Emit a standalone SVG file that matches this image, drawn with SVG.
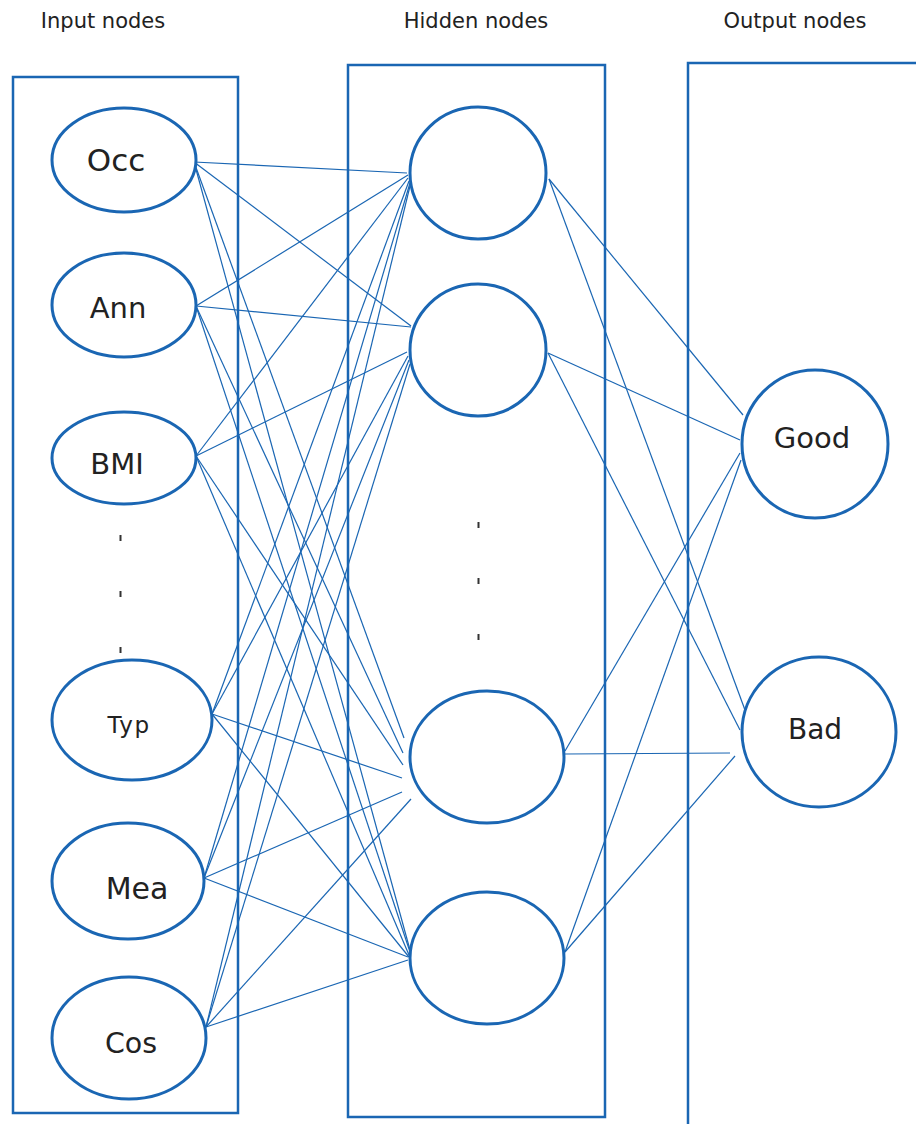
<svg xmlns="http://www.w3.org/2000/svg" width="916" height="1124" viewBox="0 0 916 1124">
  <style>
    .box { fill: none; stroke: #1a66b3; stroke-width: 2.5; }
    .node { fill: #ffffff; stroke: #1a66b3; stroke-width: 3; }
    .edge { stroke: #1a66b3; stroke-width: 1.2; fill: none; }
    .title { font-family: "DejaVu Sans", sans-serif; font-size: 21px; fill: #222222; text-anchor: middle; }
    .label { font-family: "DejaVu Sans", sans-serif; font-size: 29px; fill: #222222; text-anchor: middle; }
    .dot { fill: #333333; }
  </style>

  <rect width="916" height="1124" fill="#ffffff"/>

  <!-- column titles -->
  <text class="title" x="103" y="28">Input nodes</text>
  <text class="title" x="476" y="28">Hidden nodes</text>
  <text class="title" x="795" y="28">Output nodes</text>

  <!-- layer frames -->
  <g id="frames">
    <rect class="box" x="13" y="77" width="225" height="1036"/>
    <rect class="box" x="348" y="65" width="257" height="1052"/>
    <rect class="box" x="688" y="63" width="260" height="1080"/>
  </g>

  <!-- connectors -->
  <g id="connectors">
    <!-- input to hidden 1 -->
    <line class="edge" x1="194" y1="162" x2="407" y2="173"/>
    <line class="edge" x1="196" y1="306" x2="408" y2="175"/>
    <line class="edge" x1="196" y1="456" x2="408" y2="178"/>
    <line class="edge" x1="212" y1="714" x2="409" y2="181"/>
    <line class="edge" x1="204" y1="878" x2="410" y2="183"/>
    <line class="edge" x1="206" y1="1027" x2="410" y2="186"/>
    <!-- input to hidden 2 -->
    <line class="edge" x1="194" y1="162" x2="411" y2="326"/>
    <line class="edge" x1="196" y1="306" x2="411" y2="327"/>
    <line class="edge" x1="196" y1="456" x2="407" y2="352"/>
    <line class="edge" x1="212" y1="714" x2="408" y2="356"/>
    <line class="edge" x1="204" y1="878" x2="409" y2="360"/>
    <line class="edge" x1="206" y1="1027" x2="410" y2="364"/>
    <!-- input to hidden 3 -->
    <line class="edge" x1="194" y1="162" x2="404" y2="738"/>
    <line class="edge" x1="196" y1="306" x2="403" y2="753"/>
    <line class="edge" x1="196" y1="456" x2="403" y2="765"/>
    <line class="edge" x1="212" y1="714" x2="402" y2="778"/>
    <line class="edge" x1="204" y1="878" x2="402" y2="792"/>
    <line class="edge" x1="206" y1="1027" x2="411" y2="799"/>
    <!-- input to hidden 4 -->
    <line class="edge" x1="194" y1="162" x2="410" y2="950"/>
    <line class="edge" x1="196" y1="306" x2="410" y2="952"/>
    <line class="edge" x1="196" y1="456" x2="409" y2="955"/>
    <line class="edge" x1="212" y1="714" x2="409" y2="957"/>
    <line class="edge" x1="204" y1="878" x2="408" y2="957"/>
    <line class="edge" x1="206" y1="1027" x2="408" y2="960"/>
    <!-- hidden to output -->
    <line class="edge" x1="549" y1="179" x2="743" y2="415"/>
    <line class="edge" x1="549" y1="179" x2="745" y2="710"/>
    <line class="edge" x1="548" y1="353" x2="740" y2="440"/>
    <line class="edge" x1="548" y1="353" x2="740" y2="730"/>
    <line class="edge" x1="565" y1="751" x2="740" y2="453"/>
    <line class="edge" x1="565" y1="754" x2="730" y2="753"/>
    <line class="edge" x1="565" y1="952" x2="741" y2="460"/>
    <line class="edge" x1="565" y1="952" x2="735" y2="756"/>
  </g>

  <!-- input layer -->
  <g id="node-occ">
    <ellipse class="node" cx="124" cy="160" rx="72" ry="52"/>
    <text class="label" x="116" y="171" style="font-size:31px">Occ</text>
  </g>
  <g id="node-ann">
    <ellipse class="node" cx="124" cy="305" rx="72" ry="52"/>
    <text class="label" x="118" y="318">Ann</text>
  </g>
  <g id="node-bmi">
    <ellipse class="node" cx="124" cy="458" rx="72" ry="46"/>
    <text class="label" x="117" y="474">BMI</text>
  </g>
  <g id="input-ellipsis">
    <rect class="dot" x="119.5" y="535" width="2" height="6"/>
    <rect class="dot" x="119.5" y="591" width="2" height="6"/>
    <rect class="dot" x="119.5" y="647" width="2" height="6"/>
  </g>
  <g id="node-typ">
    <ellipse class="node" cx="132" cy="720" rx="80" ry="60"/>
    <text class="label" x="129" y="733" style="font-size:23px;letter-spacing:1.5px">Typ</text>
  </g>
  <g id="node-mea">
    <ellipse class="node" cx="128" cy="881" rx="76" ry="58"/>
    <text class="label" x="137" y="899" style="font-size:30px">Mea</text>
  </g>
  <g id="node-cos">
    <ellipse class="node" cx="129" cy="1038" rx="77" ry="61"/>
    <text class="label" x="131" y="1053" style="font-size:28.5px">Cos</text>
  </g>

  <!-- hidden layer -->
  <g id="node-h1">
    <ellipse class="node" cx="478" cy="173" rx="68" ry="66"/>
  </g>
  <g id="node-h2">
    <ellipse class="node" cx="478" cy="350" rx="68" ry="66"/>
  </g>
  <g id="hidden-ellipsis">
    <rect class="dot" x="477.5" y="522" width="2" height="6"/>
    <rect class="dot" x="477.5" y="578" width="2" height="6"/>
    <rect class="dot" x="477.5" y="634" width="2" height="6"/>
  </g>
  <g id="node-h3">
    <ellipse class="node" cx="487" cy="757" rx="77" ry="66"/>
  </g>
  <g id="node-h4">
    <ellipse class="node" cx="487" cy="958" rx="77" ry="66"/>
  </g>

  <!-- output layer -->
  <g id="node-good">
    <ellipse class="node" cx="815" cy="444" rx="73" ry="74"/>
    <text class="label" x="812" y="448">Good</text>
  </g>
  <g id="node-bad">
    <ellipse class="node" cx="819" cy="732" rx="77" ry="75"/>
    <text class="label" x="815" y="739" style="font-size:28px">Bad</text>
  </g>
</svg>
